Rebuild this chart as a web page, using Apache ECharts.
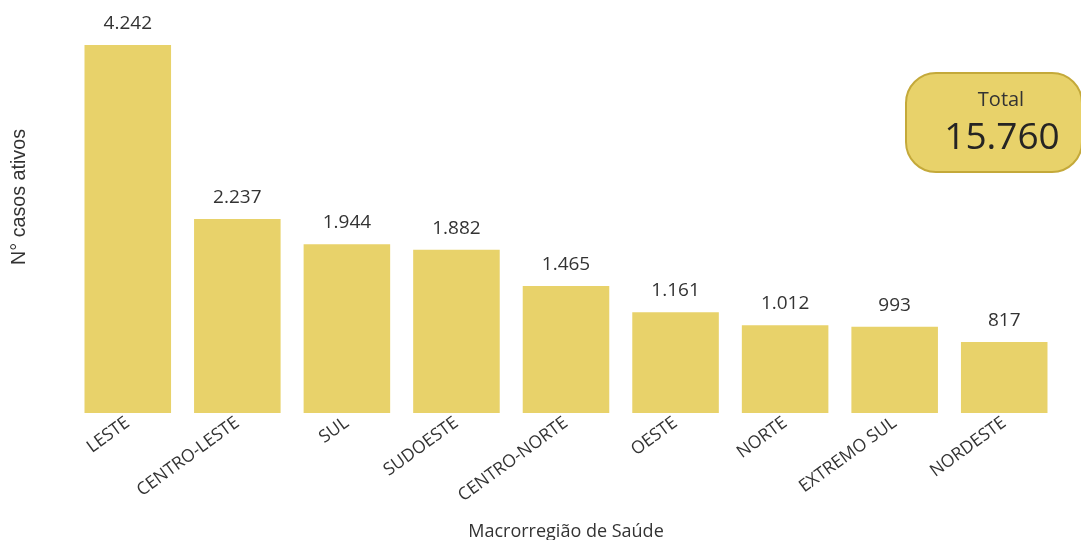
<!DOCTYPE html>
<html>
<head>
<meta charset="utf-8">
<script src="https://cdn.jsdelivr.net/npm/echarts@6/dist/echarts.min.js"></script>
<style>
  html, body { margin: 0; padding: 0; background: #fff; }
  #chart { width: 1081px; height: 540px; }
</style>
</head>
<body>
<div id="chart"></div>
<script>
// Active cases by health macro-region
const regions = ['LESTE', 'CENTRO-LESTE', 'SUL', 'SUDOESTE', 'CENTRO-NORTE', 'OESTE', 'NORTE', 'EXTREMO SUL', 'NORDESTE'];
const activeCases = [4242, 2237, 1944, 1882, 1465, 1161, 1012, 993, 817];
const totalCases = 15760;

const fmt = (v) => v.toLocaleString('pt-BR');
const font = "'Open Sans', 'DejaVu Sans', sans-serif";

const chart = echarts.init(document.getElementById('chart'));

const option = {
  animation: false,
  grid: { left: 73, right: 22, top: 45, bottom: 127, outerBoundsMode: 'none', containLabel: false },
  xAxis: {
    type: 'category',
    data: regions,
    name: 'Macrorregião de Saúde',
    nameLocation: 'middle',
    nameGap: 110,
    nameTextStyle: { fontSize: 18, color: '#333', fontFamily: font },
    axisLine: { show: false },
    axisTick: { show: false },
    axisLabel: {
      rotate: 36,
      fontSize: 17.5,
      color: '#333',
      fontFamily: font,
      margin: 8,
    },
  },
  yAxis: {
    type: 'value',
    min: 0,
    max: 4242,
    show: false,
  },
  series: [
    {
      type: 'bar',
      data: activeCases,
      barCategoryGap: '21%',
      itemStyle: { color: '#e8d26a' },
      label: {
        show: true,
        position: 'top',
        distance: 12,
        fontSize: 19,
        color: '#333',
        fontFamily: font,
        formatter: (p) => fmt(p.value),
      },
    },
  ],
  graphic: [
    {
      type: 'text',
      left: 10,
      top: 129,
      rotation: Math.PI / 2,
      style: {
        text: 'N° casos ativos',
        fontSize: 19.7,
        fill: '#333',
        fontFamily: "'Liberation Sans', Arial, sans-serif",
      },
    },
    {
      type: 'rect',
      shape: { x: 906, y: 73, width: 176, height: 99, r: 30 },
      style: { fill: '#e8d26a', stroke: '#c4a93a', lineWidth: 2 },
    },
    {
      type: 'text',
      x: 1001,
      y: 100,
      style: {
        text: 'Total',
        fontSize: 20,
        fill: '#333',
        fontFamily: font,
        align: 'center',
        verticalAlign: 'middle',
      },
    },
    {
      type: 'text',
      x: 1002,
      y: 138,
      style: {
        text: fmt(totalCases),
        fontSize: 37,
        fill: '#252423',
        fontFamily: font,
        align: 'center',
        verticalAlign: 'middle',
      },
    },
  ],
};

chart.setOption(option);
</script>
</body>
</html>
